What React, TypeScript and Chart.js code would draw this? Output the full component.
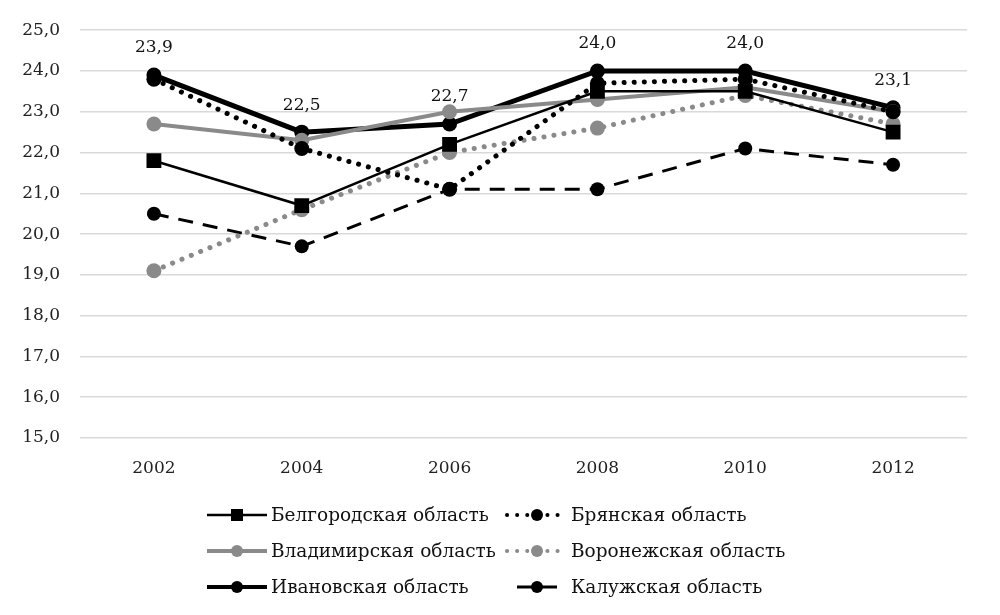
import React, { useEffect, useRef } from "react";
import { Chart, registerables } from "chart.js";

Chart.register(...registerables);

const years = ["2002", "2004", "2006", "2008", "2010", "2012"];
const belgorod = [21.8, 20.7, 22.2, 23.5, 23.5, 22.5];
const bryansk = [23.8, 22.1, 21.1, 23.7, 23.8, 23.0];
const vladimir = [22.7, 22.3, 23.0, 23.3, 23.6, 23.0];
const voronezh = [19.1, 20.6, 22.0, 22.6, 23.4, 22.7];
const ivanovo = [23.9, 22.5, 22.7, 24.0, 24.0, 23.1];
const kaluga = [20.5, 19.7, 21.1, 21.1, 22.1, 21.7];
const seriesNames = [
  "Белгородская область",
  "Брянская область",
  "Владимирская область",
  "Воронежская область",
  "Ивановская область",
  "Калужская область",
];

const FONT = "'DejaVu Serif', serif";
const GRAY = "#8a8a8a";
const BLACK = "#000000";

const labelPlugin = {
  id: "ivanovoLabels",
  afterDatasetsDraw(chart: any) {
    const ctx = chart.ctx;
    const idx = 4;
    const meta = chart.getDatasetMeta(idx);
    const data = chart.data.datasets[idx].data as number[];
    ctx.save();
    ctx.font = `17px ${FONT}`;
    ctx.fillStyle = "#111";
    ctx.textAlign = "center";
    ctx.textBaseline = "middle";
    meta.data.forEach((pt: any, i: number) => {
      ctx.fillText(data[i].toFixed(1).replace(".", ","), pt.x, pt.y - 27);
    });
    ctx.restore();
  },
};

const legendPlugin = {
  id: "customLegend",
  afterDraw(chart: any) {
    const ctx = chart.ctx;
    const ds = chart.data.datasets;
    const colX = [207, 507];
    const rowY = [515, 551, 587];
    const symW = 60;
    ctx.save();
    ds.forEach((d: any, i: number) => {
      const x = colX[i % 2];
      const y = rowY[Math.floor(i / 2)];
      const dash = d.borderDash || [];
      ctx.strokeStyle = d.borderColor;
      ctx.lineWidth = Math.min(d.borderWidth, 4);
      ctx.lineCap = d.borderCapStyle || "butt";
      ctx.setLineDash(dash);
      ctx.lineDashOffset = dash.length && dash[0] > 1 ? dash[0] : 0;
      ctx.beginPath();
      ctx.moveTo(x, y);
      ctx.lineTo(x + symW, y);
      ctx.stroke();
      ctx.setLineDash([]);
      ctx.fillStyle = d.pointBackgroundColor;
      const cx = x + symW / 2;
      if (d.pointStyle === "rect") {
        ctx.fillRect(cx - 6, y - 6, 12, 12);
      } else {
        ctx.beginPath();
        ctx.arc(cx, y, 6, 0, Math.PI * 2);
        ctx.fill();
      }
      ctx.font = `18.5px ${FONT}`;
      ctx.fillStyle = "#111";
      ctx.textAlign = "left";
      ctx.textBaseline = "middle";
      ctx.fillText(d.label, x + symW + 4, y + 1);
    });
    ctx.restore();
  },
};

export default function App() {
  const ref = useRef<HTMLCanvasElement>(null);
  useEffect(() => {
    document.body.style.margin = "0";
    const mk = (
      label: string,
      data: number[],
      color: string,
      width: number,
      dash: number[],
      cap: string,
      style: string,
      radius: number
    ) => ({
      label,
      data,
      borderColor: color,
      backgroundColor: color,
      borderWidth: width,
      borderDash: dash,
      borderCapStyle: cap,
      pointStyle: style,
      pointRadius: radius,
      pointHoverRadius: radius,
      pointBackgroundColor: color,
      pointBorderColor: color,
      pointBorderWidth: 0,
      tension: 0,
      fill: false,
    });
    const chart = new Chart(ref.current!, {
      type: "line",
      data: {
        labels: years,
        datasets: [
          mk(seriesNames[0], belgorod, BLACK, 2.5, [], "butt", "rect", 10.5),
          mk(seriesNames[1], bryansk, BLACK, 5, [0.1, 10], "round", "circle", 7.5),
          mk(seriesNames[2], vladimir, GRAY, 4, [], "butt", "circle", 7.5),
          mk(seriesNames[3], voronezh, GRAY, 5, [0.1, 10], "round", "circle", 7.5),
          mk(seriesNames[4], ivanovo, BLACK, 5, [], "butt", "circle", 7.5),
          mk(seriesNames[5], kaluga, BLACK, 3, [15, 10], "butt", "circle", 7),
        ] as any,
      },
      options: {
        responsive: false,
        animation: false,
        layout: { padding: { left: 0, right: 33, top: 29, bottom: 130 } },
        plugins: {
          legend: { display: false },
          tooltip: { enabled: false },
        },
        scales: {
          x: {
            offset: true,
            grid: { display: false },
            border: { display: false },
            ticks: {
              padding: 12,
              color: "#222",
              font: { family: FONT, size: 17 },
            },
            afterFit: (s: any) => {
              s.height = 615 - 438 - 130;
            },
          },
          y: {
            min: 15,
            max: 25,
            grid: { color: "#d9d9d9", lineWidth: 1.5, drawTicks: false },
            border: { display: false },
            ticks: {
              stepSize: 1,
              padding: 20,
              color: "#222",
              font: { family: FONT, size: 17 },
              callback: (v: any) => Number(v).toFixed(1).replace(".", ","),
            },
            afterFit: (s: any) => {
              s.width = 80;
            },
          },
        },
      },
      plugins: [labelPlugin, legendPlugin],
    });
    return () => chart.destroy();
  }, []);
  return (
    <div style={{ width: 1000, height: 615, background: "#fff" }}>
      <canvas ref={ref} width={1000} height={615} />
    </div>
  );
}
